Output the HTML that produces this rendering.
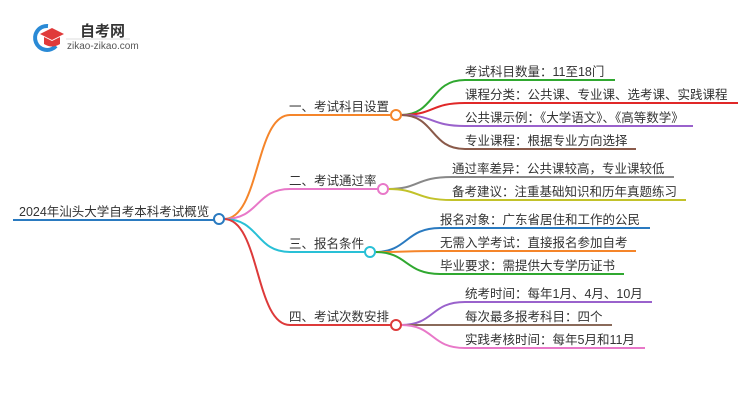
<!DOCTYPE html>
<html><head><meta charset="utf-8"><style>
body{margin:0;background:#fff;width:750px;height:410px;overflow:hidden}
text{font-family:"Liberation Sans","Noto Sans CJK SC",sans-serif;font-size:12.5px;fill:#333}
</style></head><body>
<svg width="750" height="410" viewBox="0 0 750 410" xmlns="http://www.w3.org/2000/svg">
<path d="M48 26 A12 12 0 1 0 56 46" fill="none" stroke="#2a8ad6" stroke-width="4"/>
<path d="M40 34 L52 28 L64 34 L52 40 Z" fill="#e03a3a"/>
<path d="M44 37 L44 44 Q52 49 60 44 L60 37 L52 41 Z" fill="#e03a3a"/>
<text x="80" y="36" style="font-size:15px;font-weight:bold;fill:#333">自考网</text>
<line x1="66" y1="39" x2="130" y2="39" stroke="#ddd"/>
<text x="67" y="49" style="font-size:10px;fill:#555">zikao-zikao.com</text>

<g fill="none" stroke-width="2">
<path d="M13 220 H214" stroke="#2a7ac0"/>
<path d="M224 219 C260 219 255 115 290 115 H392" stroke="#f5852a"/>
<path d="M224 219 C260 219 255 189 290 189 H378" stroke="#e878c8"/>
<path d="M224 219 C260 219 255 252 290 252 H365" stroke="#29c0d6"/>
<path d="M224 219 C260 219 255 325 290 325 H392" stroke="#dd3a3a"/>

<path d="M401 115 C435 115 430 80 465 80 H615" stroke="#30a830"/>
<path d="M401 115 C435 115 430 103 465 103 H738" stroke="#e02828"/>
<path d="M401 115 C435 115 430 126 465 126 H693" stroke="#9a62cc"/>
<path d="M401 115 C435 115 430 149 465 149 H636" stroke="#8a5a4a"/>

<path d="M388 189 C420 189 415 177 452 177 H674" stroke="#888"/>
<path d="M388 189 C420 189 415 200 452 200 H686" stroke="#c2c22a"/>

<path d="M375 252 C408 252 405 228 440 228 H650" stroke="#2a7ac0"/>
<path d="M375 252 C408 252 405 251 440 251 H636" stroke="#f5852a"/>
<path d="M375 252 C408 252 405 274 440 274 H624" stroke="#30a830"/>

<path d="M401 325 C435 325 430 302 465 302 H652" stroke="#9a62cc"/>
<path d="M401 325 C435 325 430 325 465 325 H612" stroke="#8a6a5a"/>
<path d="M401 325 C435 325 430 348 465 348 H645" stroke="#e878c8"/>
</g>
<g fill="#fff" stroke-width="2">
<circle cx="219" cy="219" r="5" stroke="#2a7ac0"/>
<circle cx="396" cy="115" r="5" stroke="#f5852a"/>
<circle cx="383" cy="189" r="5" stroke="#e878c8"/>
<circle cx="370" cy="252" r="5" stroke="#29c0d6"/>
<circle cx="396" cy="325" r="5" stroke="#dd3a3a"/>
</g>

<text x="19" y="216">2024年汕头大学自考本科考试概览</text>
<text x="289" y="111">一、考试科目设置</text>
<text x="289" y="185">二、考试通过率</text>
<text x="289" y="248">三、报名条件</text>
<text x="289" y="321">四、考试次数安排</text>

<text x="465" y="76">考试科目数量：11至18门</text>
<text x="465" y="99">课程分类：公共课、专业课、选考课、实践课程</text>
<text x="465" y="122">公共课示例：《大学语文》、《高等数学》</text>
<text x="465" y="145">专业课程：根据专业方向选择</text>
<text x="452" y="173">通过率差异：公共课较高，专业课较低</text>
<text x="452" y="196">备考建议：注重基础知识和历年真题练习</text>
<text x="440" y="224">报名对象：广东省居住和工作的公民</text>
<text x="440" y="247">无需入学考试：直接报名参加自考</text>
<text x="440" y="270">毕业要求：需提供大专学历证书</text>
<text x="465" y="298">统考时间：每年1月、4月、10月</text>
<text x="465" y="321">每次最多报考科目：四个</text>
<text x="465" y="344">实践考核时间：每年5月和11月</text>
</svg>
</body></html>
